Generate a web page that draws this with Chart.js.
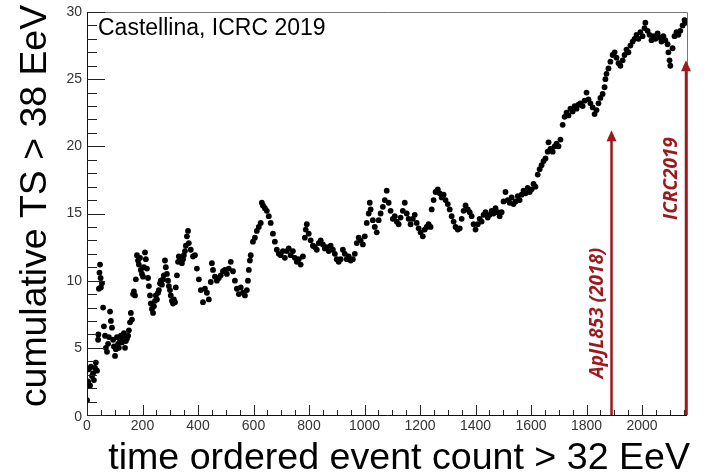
<!DOCTYPE html>
<html>
<head>
<meta charset="utf-8">
<script src="https://cdn.jsdelivr.net/npm/chart.js@4/dist/chart.umd.min.js"></script>
<style>
html,body{margin:0;padding:0;background:#fff;}
#wrap{width:706px;height:474px;position:relative;}
</style>
</head>
<body>
<div id="wrap"><canvas id="c" width="706" height="474"></canvas></div>
<script>
// event index (time ordered count) and cumulative TS
const eventCount = [
0,4,7,11,14,18,22,25,29,32,36,40,41,43,45,47,49,50,54,58,61,65,68,72,76,79,83,86,90,94,97,101,104,108,112,115,119,122,126,130,133,137,140,144,148,151,155,158,162,166,169,173,176,180,184,187,191,194,198,202,205,209,212,216,220,223,227,230,234,238,241,245,248,252,256,259,263,266,270,274,277,281,284,288,292,295,299,302,306,310,313,317,320,324,328,331,335,338,342,346,349,353,356,360,364,
367,374,382,389,396,403,410,418,425,432,439,446,450,454,461,468,475,482,490,497,504,511,518,526,533,540,547,554,562,569,576,580,583,587,590,598,605,612,619,626,630,634,641,648,655,662,670,677,684,691,698,706,713,720,727,734,742,749,756,763,770,778,785,788,792,799,806,814,821,828,835,842,850,857,864,871,878,886,893,900,907,914,922,929,936,943,950,958,965,972,979,986,994,1001,1008,1015,1019,1022,1030,1037,1044,1051,1058,1066,1073,1080,1087,1094,1102,1109,1116,1123,1130,1138,1145,1152,1159,1166,1174,1181,1188,1195,1202,1210,1217,1224,1231,1238,1242,1249,1256,1264,1271,1278,1285,1292,1300,1307,1314,1321,1328,1336,1343,1350,1357,1364,1372,1379,1386,1393,1400,1408,1415,1422,1429,1436,1444,1451,1458,1465,1472,1480,1487,1494,1501,1508,1516,1523,1530,1537,1544,1552,1559,1566,1573,1580,1588,1595,1602,1609,1616,1624,1631,1638,1645,1652,1660,1663,1670,1678,1685,1692,1699,1706,1714,1721,1728,1735,1742,1750,1757,1764,1771,1778,1786,1793,1800,1807,1814,1822,1829,1836,1843,1850,1858,1865,1868,1872,1879,1886,1894,1901,1908,1915,1922,1930,1937,1944,1951,1958,1966,1973,1980,1987,1994,2002,2009,2012,2020,2027,2034,2041,2048,2056,2063,2070,2077,2084,2092,2095,2099,2102,2110,2117,2124,2131,2138,2146,2153,2156
];
const cumulativeTS = [
1.1,2.5,3.4,2.2,3.6,2.9,3.1,2.6,3.5,3.9,3.3,5.6,6.0,9.4,10.6,11.2,10.2,9.5,9.8,8.0,6.6,5.9,5.0,4.7,5.3,5.8,7.7,7.0,6.5,5.6,5.1,4.4,4.9,5.8,5.3,5.0,5.6,5.9,5.4,5.8,6.1,5.0,5.5,5.7,5.9,6.3,6.9,7.6,7.1,9.0,9.2,8.9,10.1,11.9,11.5,11.2,11.7,10.8,10.5,10.3,11.0,12.1,11.6,10.9,10.2,9.6,8.9,8.3,7.9,7.6,8.1,8.5,8.9,8.6,9.1,9.3,9.8,10.0,9.7,10.1,10.4,11.5,11.0,10.5,10.0,9.6,9.3,8.9,8.5,8.3,8.6,8.4,9.5,10.4,11.4,11.8,11.5,11.7,11.3,11.6,11.9,12.2,12.6,13.3,13.7,
12.8,12.3,11.8,11.9,10.9,10.1,9.3,8.4,9.4,9.1,8.6,9.9,11.3,10.8,10.3,10.0,10.2,10.4,10.7,10.8,10.5,10.9,11.4,10.7,10.0,9.4,9.0,9.5,9.1,8.9,9.3,10.0,10.8,11.5,11.9,12.9,13.2,13.7,14.0,14.3,15.8,15.6,15.4,15.2,14.8,14.3,13.5,12.9,12.3,12.0,11.9,12.2,11.7,12.2,12.4,11.9,12.2,11.7,11.4,11.6,11.2,11.8,13.2,13.8,14.2,13.5,13.0,12.6,12.5,12.3,12.8,13.0,12.7,12.4,12.5,12.2,12.6,12.3,12.0,11.6,11.4,11.6,12.3,12.0,11.6,11.8,11.5,11.6,12.0,12.8,13.2,13.0,12.7,13.3,14.3,15.0,15.8,15.3,14.5,14.0,13.6,14.5,15.0,15.5,16.0,16.7,15.8,15.2,14.6,14.8,14.4,14.2,14.7,15.2,15.8,15.0,14.6,14.2,14.6,14.9,14.3,13.9,13.6,13.3,13.8,14.0,14.2,14.0,15.3,16.0,16.6,16.8,16.5,16.2,16.4,16.0,15.7,15.3,14.8,14.4,14.0,13.8,13.9,14.6,15.2,15.6,15.3,15.1,14.8,14.2,13.8,14.2,14.6,14.4,14.9,15.1,14.7,14.9,15.2,15.0,15.4,15.1,14.8,15.1,15.9,16.6,16.0,15.8,16.2,15.7,15.9,16.3,16.0,16.4,16.7,16.5,16.9,16.6,16.8,17.2,17.0,17.9,18.3,18.6,18.9,19.1,19.6,20.3,19.8,19.6,20.0,20.2,20.0,20.5,21.6,22.2,22.5,22.3,22.8,22.6,23.0,22.8,23.1,23.2,23.0,23.4,24.0,23.5,23.2,22.9,22.4,22.7,23.2,23.6,23.9,24.4,25.0,25.4,25.8,26.3,26.8,27.0,26.6,26.2,26.0,26.4,26.8,27.2,27.0,27.5,27.8,28.0,28.3,28.0,28.5,28.2,28.8,29.2,28.6,28.3,27.9,28.2,28.0,28.4,28.1,27.8,28.2,27.9,27.6,27.0,26.4,26.0,27.3,28.2,28.5,28.3,28.6,29.0,29.4,29.2
];
const xTickLabels = [0,200,400,600,800,1000,1200,1400,1600,1800,2000];
const yTickLabels = [0,5,10,15,20,25,30];
const arrowLabels = ['ApJL853 (2018)','ICRC2019'];
const arrowEvent = [1890, 2162];
const arrowTipTS = [21.2, 26.4];
const arrowLabelTS = [7.6, 17.6];

const points = eventCount.map((v,i)=>({x:v, y:cumulativeTS[i]}));

const RED = '#9c1a1c';
const deco = {
  id:'deco',
  afterDatasetsDraw(chart){
    const {ctx, chartArea:a, scales:{x,y}} = chart;
    ctx.save();
    // frame
    ctx.lineWidth = 1;
    ctx.strokeStyle = '#777';
    ctx.beginPath();
    ctx.moveTo(a.left, a.top+0.5); ctx.lineTo(a.right+0.5, a.top+0.5); ctx.lineTo(a.right+0.5, a.bottom);
    ctx.stroke();
    ctx.strokeStyle = '#111';
    ctx.beginPath();
    ctx.moveTo(a.left+0.5, a.top); ctx.lineTo(a.left+0.5, a.bottom+0.5); ctx.lineTo(a.right, a.bottom+0.5);
    ctx.stroke();
    // ticks
    ctx.strokeStyle = '#222';
    ctx.beginPath();
    for(let v=0; v<=30; v++){
      const py = Math.round(y.getPixelForValue(v))+0.5;
      const len = v%5===0 ? 18 : 10;
      ctx.moveTo(a.left, py); ctx.lineTo(a.left+len, py);
    }
    for(let v=0; v<=2150; v+=50){
      const px = Math.round(x.getPixelForValue(v))+0.5;
      const len = v%200===0 ? 10 : 5;
      ctx.moveTo(px, a.bottom); ctx.lineTo(px, a.bottom-len);
    }
    ctx.stroke();
    // tick labels
    ctx.fillStyle = '#333';
    ctx.font = '14px "Liberation Sans", Arial, sans-serif';
    ctx.textAlign = 'right'; ctx.textBaseline = 'middle';
    yTickLabels.forEach(v=>{
      ctx.fillText(String(v), a.left-5, y.getPixelForValue(v)+(v===0?2:0));
    });
    ctx.textAlign = 'center'; ctx.textBaseline = 'top';
    xTickLabels.forEach(v=>{
      ctx.fillText(String(v), x.getPixelForValue(v), a.bottom+4);
    });
    // axis titles
    ctx.fillStyle = '#000';
    let fs = 32;
    ctx.font = fs+'px "Liberation Sans", Arial, sans-serif';
    let w = ctx.measureText('time ordered event count > 32 EeV').width;
    fs = fs*582/w;
    ctx.font = fs.toFixed(1)+'px "Liberation Sans", Arial, sans-serif';
    ctx.textAlign = 'right'; ctx.textBaseline = 'middle';
    ctx.fillText('time ordered event count > 32 EeV', 690, 459);
    fs = 32;
    ctx.font = fs+'px "Liberation Sans", Arial, sans-serif';
    w = ctx.measureText('cumulative TS > 38 EeV').width;
    fs = fs*402/w;
    ctx.font = fs.toFixed(1)+'px "Liberation Sans", Arial, sans-serif';
    ctx.save();
    ctx.translate(36, 206);
    ctx.rotate(-Math.PI/2);
    ctx.textAlign = 'center'; ctx.textBaseline = 'middle';
    ctx.fillText('cumulative TS > 38 EeV', 0, 0);
    ctx.restore();
    // annotation
    ctx.font = '23px "Liberation Sans", Arial, sans-serif';
    ctx.textAlign = 'left'; ctx.textBaseline = 'middle';
    ctx.fillText('Castellina, ICRC 2019', 98, 29);
    // arrows
    ctx.strokeStyle = RED; ctx.fillStyle = RED; ctx.lineWidth = 2.5;
    arrowEvent.forEach((ev,i)=>{
      const px = Math.min(x.getPixelForValue(ev), a.right-1);
      const tip = y.getPixelForValue(arrowTipTS[i]);
      ctx.beginPath();
      ctx.moveTo(px, a.bottom); ctx.lineTo(px, tip+8);
      ctx.stroke();
      ctx.beginPath();
      ctx.moveTo(px, tip); ctx.lineTo(px-5, tip+11); ctx.lineTo(px+5, tip+11); ctx.closePath();
      ctx.fill();
      ctx.save();
      ctx.translate(px-14, y.getPixelForValue(arrowLabelTS[i]));
      ctx.rotate(-Math.PI/2);
      ctx.font = 'italic bold 19px "Open Sans", "Liberation Sans", sans-serif';
      ctx.textAlign = 'center'; ctx.textBaseline = 'middle';
      ctx.fillText(arrowLabels[i], 0, 0);
      ctx.restore();
    });
    ctx.restore();
  }
};

new Chart(document.getElementById('c'), {
  type:'scatter',
  data:{datasets:[{data:points, pointRadius:2.9, pointBackgroundColor:'#000', pointBorderWidth:0, pointHoverRadius:2.9}]},
  options:{
    responsive:false, animation:false, events:[],
    layout:{padding:{left:87, right:19, top:12, bottom:59}},
    plugins:{legend:{display:false}, tooltip:{enabled:false}},
    scales:{
      x:{type:'linear', min:0, max:2162, display:false},
      y:{type:'linear', min:0, max:30, display:false}
    }
  },
  plugins:[deco]
});
</script>
</body>
</html>
